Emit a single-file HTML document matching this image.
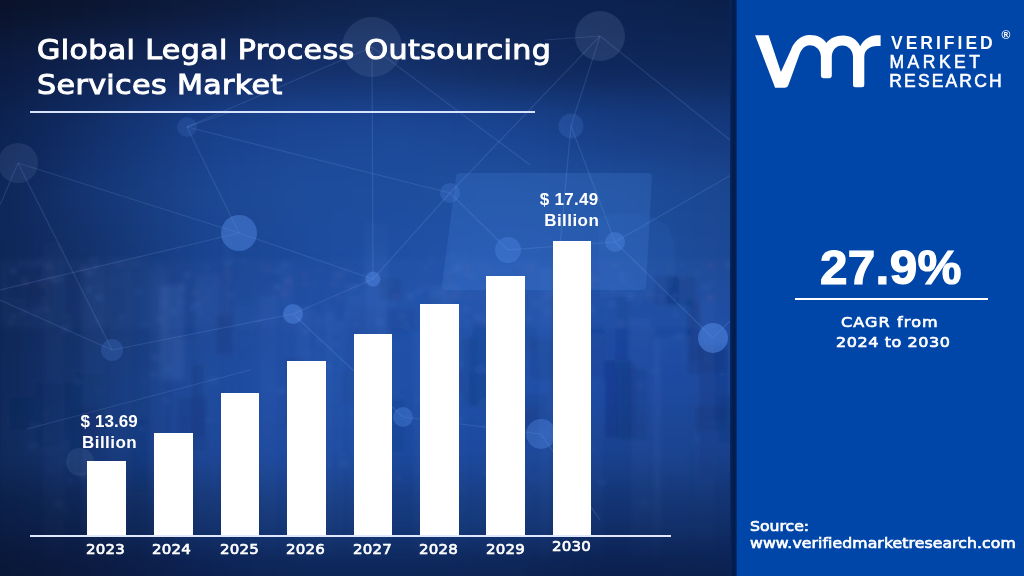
<!DOCTYPE html>
<html><head><meta charset="utf-8">
<style>
*{margin:0;padding:0;box-sizing:border-box}
html,body{width:1024px;height:576px;overflow:hidden;background:#0045a8}
#left{position:absolute;left:0;top:0;width:731px;height:576px;overflow:hidden;background:#1a4490}
#sep{position:absolute;left:730px;top:0;width:7.5px;height:576px;background:linear-gradient(90deg,#0a2a62 0px,#041e50 2px,#031c4c 4.5px,#04225a 6px,#0a3c96 7.5px)}
#right{position:absolute;left:737px;top:0;width:287px;height:576px;background:#0045a8}
.t{position:absolute;color:#fff;white-space:nowrap}
#title{left:37px;top:32.2px;font:27.4px/35.2px "DejaVu Sans",sans-serif;-webkit-text-stroke:1px #fff;letter-spacing:0.33px;transform:scaleX(1.1);transform-origin:0 0}
#tline{position:absolute;left:29.5px;top:111px;width:505.5px;height:2px;background:#d8e4ff}
.bar{position:absolute;background:#fff;width:38.5px}
#axis{position:absolute;left:30px;top:535px;width:641px;height:2px;background:#dfe8ff}
.yr{position:absolute;font:14.3px/17px "DejaVu Sans",sans-serif;-webkit-text-stroke:0.65px #fff;letter-spacing:0.2px;transform:scaleX(1.05);transform-origin:0 0;color:#fff}
.val{position:absolute;font:bold 17px/20px "Liberation Sans",sans-serif;color:#fff;white-space:nowrap}
#cagr{left:819.9px;top:240.2px;font:bold 48px/56px "Liberation Sans",sans-serif;-webkit-text-stroke:1.2px #fff;letter-spacing:0.3px;transform:scaleX(1.03);transform-origin:0 0}
#cline{position:absolute;left:795.3px;top:297.8px;width:192.4px;height:2px;background:#fff}
.cs{font:14.3px/17px "DejaVu Sans",sans-serif;-webkit-text-stroke:0.65px #fff;transform:scaleX(1.12);transform-origin:0 0}
.sr{left:750px;font:14px/17px "DejaVu Sans",sans-serif;-webkit-text-stroke:0.65px #fff;transform:scaleX(1.12);transform-origin:0 0}
.lg{position:absolute;left:891px;color:#fff;font:17.5px "Liberation Sans",sans-serif;white-space:nowrap}
</style></head><body>
<div id="left">
<div id="bg" style="position:absolute;left:-60px;top:-60px;width:860px;height:700px;filter:blur(20px)"><div style="position:absolute;left:0;top:0px;width:860px;height:92px;background:linear-gradient(90deg,#0a1228 60px,#0b1530 160px,#0c1a3c 260px,#0d2046 360px,#0e234e 460px,#0d2250 560px,#0c2250 660px,#0b1f4a 790px)"></div><div style="position:absolute;left:0;top:92px;width:860px;height:64px;background:linear-gradient(90deg,#0b1a40 60px,#0f2452 160px,#12295e 260px,#142f68 360px,#14306a 460px,#112a5e 560px,#0f275a 660px,#0d2758 790px)"></div><div style="position:absolute;left:0;top:156px;width:860px;height:64px;background:linear-gradient(90deg,#0c2250 60px,#12306c 160px,#18408a 260px,#1b4694 360px,#1c4898 460px,#1a4592 560px,#173e86 660px,#15397e 790px)"></div><div style="position:absolute;left:0;top:220px;width:860px;height:64px;background:linear-gradient(90deg,#0e2658 60px,#153676 160px,#1b4690 260px,#1e4c9c 360px,#1e4d9e 460px,#204f9f 560px,#1f4e9c 660px,#1a4690 790px)"></div><div style="position:absolute;left:0;top:284px;width:860px;height:64px;background:linear-gradient(90deg,#0e2656 60px,#14336e 160px,#1a4490 260px,#1d4a9c 360px,#1f4fa4 460px,#2254aa 560px,#2050a4 660px,#1c4894 790px)"></div><div style="position:absolute;left:0;top:348px;width:860px;height:64px;background:linear-gradient(90deg,#0d2554 60px,#14336e 160px,#1a4592 260px,#1d4aa0 360px,#1f50a8 460px,#1f50a8 560px,#1d4ca2 660px,#1c4aa0 790px)"></div><div style="position:absolute;left:0;top:412px;width:860px;height:64px;background:linear-gradient(90deg,#0d2556 60px,#143574 160px,#1a4698 260px,#1d4ca4 360px,#1e4ea6 460px,#1e4ea6 560px,#1b47a0 660px,#1a459a 790px)"></div><div style="position:absolute;left:0;top:476px;width:860px;height:64px;background:linear-gradient(90deg,#0e2858 60px,#143678 160px,#194294 260px,#1b489e 360px,#1b489e 460px,#1b489e 560px,#18428f 660px,#17408c 790px)"></div><div style="position:absolute;left:0;top:540px;width:860px;height:64px;background:linear-gradient(90deg,#0b1e46 60px,#0e2452 160px,#12326e 260px,#15397c 360px,#15397c 460px,#153a7e 560px,#12316e 660px,#11306c 790px)"></div><div style="position:absolute;left:0;top:604px;width:860px;height:96px;background:linear-gradient(90deg,#0a1636 60px,#0b1a40 160px,#0c2050 260px,#0d2556 360px,#0d2556 460px,#0d2454 560px,#0b1f4c 660px,#0b204e 790px)"></div></div>
<svg id="city" width="731" height="576" style="position:absolute;left:0;top:0"><defs><filter id="cb"><feGaussianBlur stdDeviation="2.6"/></filter><linearGradient id="cm" x1="0" y1="0" x2="0" y2="1"><stop offset="0.35" stop-color="#fff" stop-opacity="0"/><stop offset="0.5" stop-color="#fff" stop-opacity="1"/><stop offset="0.85" stop-color="#fff" stop-opacity="0.8"/><stop offset="1" stop-color="#fff" stop-opacity="0"/></linearGradient><mask id="mk"><rect width="731" height="576" fill="url(#cm)"/></mask></defs><g filter="url(#cb)" mask="url(#mk)" fill="#8ab4ff"><rect x="529" y="338" width="26" height="43" fill="#081a44" fill-opacity="0.09"/><rect x="667" y="275" width="30" height="31" fill="#081a44" fill-opacity="0.14"/><rect x="191" y="364" width="14" height="73" fill="#081a44" fill-opacity="0.13"/><rect x="689" y="304" width="12" height="58" fill="#081a44" fill-opacity="0.11"/><rect x="501" y="407" width="39" height="38" fill="#081a44" fill-opacity="0.13"/><rect x="654" y="275" width="25" height="30" fill="#081a44" fill-opacity="0.13"/><rect x="615" y="294" width="15" height="75" fill="#081a44" fill-opacity="0.07"/><rect x="284" y="357" width="21" height="71" fill="#081a44" fill-opacity="0.13"/><rect x="718" y="395" width="26" height="48" fill="#081a44" fill-opacity="0.10"/><rect x="5" y="266" width="39" height="34" fill="#081a44" fill-opacity="0.13"/><rect x="577" y="324" width="28" height="54" fill="#081a44" fill-opacity="0.07"/><rect x="24" y="280" width="29" height="30" fill="#081a44" fill-opacity="0.14"/><rect x="512" y="267" width="14" height="59" fill="#081a44" fill-opacity="0.05"/><rect x="50" y="269" width="36" height="66" fill="#081a44" fill-opacity="0.07"/><rect x="698" y="346" width="30" height="73" fill="#081a44" fill-opacity="0.12"/><rect x="520" y="323" width="17" height="32" fill="#081a44" fill-opacity="0.05"/><rect x="694" y="406" width="33" height="25" fill="#081a44" fill-opacity="0.12"/><rect x="462" y="337" width="14" height="68" fill="#081a44" fill-opacity="0.11"/><rect x="215" y="315" width="18" height="41" fill="#081a44" fill-opacity="0.13"/><rect x="35" y="382" width="37" height="66" fill="#081a44" fill-opacity="0.10"/><rect x="348" y="307" width="32" height="67" fill="#081a44" fill-opacity="0.05"/><rect x="379" y="278" width="24" height="23" fill="#081a44" fill-opacity="0.10"/><rect x="522" y="393" width="27" height="37" fill="#081a44" fill-opacity="0.09"/><rect x="383" y="308" width="33" height="23" fill="#081a44" fill-opacity="0.08"/><rect x="70" y="372" width="35" height="78" fill="#081a44" fill-opacity="0.10"/><rect x="700" y="343" width="27" height="30" fill="#081a44" fill-opacity="0.12"/><rect x="686" y="299" width="15" height="76" fill="#081a44" fill-opacity="0.12"/><rect x="358" y="419" width="27" height="26" fill="#081a44" fill-opacity="0.08"/><rect x="70" y="409" width="37" height="65" fill="#081a44" fill-opacity="0.09"/><rect x="472" y="321" width="19" height="46" fill="#081a44" fill-opacity="0.10"/><rect x="125" y="417" width="29" height="77" fill="#081a44" fill-opacity="0.06"/><rect x="434" y="371" width="28" height="22" fill="#081a44" fill-opacity="0.10"/><rect x="381" y="399" width="24" height="53" fill="#081a44" fill-opacity="0.08"/><rect x="339" y="371" width="18" height="34" fill="#081a44" fill-opacity="0.08"/><rect x="470" y="372" width="25" height="36" fill="#081a44" fill-opacity="0.12"/><rect x="604" y="360" width="32" height="78" fill="#081a44" fill-opacity="0.12"/><rect x="441" y="317" width="17" height="77" fill="#081a44" fill-opacity="0.07"/><rect x="698" y="419" width="15" height="59" fill="#081a44" fill-opacity="0.07"/><rect x="110" y="285" width="19" height="38" fill="#081a44" fill-opacity="0.07"/><rect x="80" y="406" width="18" height="73" fill="#081a44" fill-opacity="0.09"/><rect x="9" y="397" width="23" height="33" fill="#081a44" fill-opacity="0.14"/><rect x="217" y="265" width="18" height="64" fill="#081a44" fill-opacity="0.05"/><rect x="177" y="397" width="31" height="55" fill="#081a44" fill-opacity="0.11"/><rect x="618" y="368" width="30" height="73" fill="#081a44" fill-opacity="0.11"/><rect x="427" y="298" width="15" height="27" fill="#081a44" fill-opacity="0.09"/><rect x="160" y="285" width="24" height="95" fill-opacity="0.10"/><rect x="0" y="258" width="731" height="70" fill-opacity="0.035"/><rect x="190" y="308" width="6" height="2" fill-opacity="0.14"/><rect x="521" y="269" width="5" height="3" fill-opacity="0.08"/><rect x="628" y="295" width="5" height="4" fill-opacity="0.21"/><rect x="240" y="259" width="5" height="4" fill-opacity="0.09"/><rect x="184" y="274" width="5" height="4" fill-opacity="0.11"/><rect x="255" y="319" width="4" height="2" fill-opacity="0.15"/><rect x="12" y="315" width="3" height="3" fill-opacity="0.18"/><rect x="334" y="329" width="3" height="3" fill-opacity="0.21"/><rect x="533" y="302" width="5" height="3" fill-opacity="0.13"/><rect x="45" y="263" width="6" height="3" fill-opacity="0.17"/><rect x="424" y="266" width="3" height="3" fill-opacity="0.21"/><rect x="710" y="330" width="6" height="3" fill-opacity="0.10"/><rect x="679" y="263" width="5" height="2" fill-opacity="0.17"/><rect x="527" y="317" width="3" height="3" fill-opacity="0.20"/><rect x="581" y="288" width="6" height="4" fill-opacity="0.17"/><rect x="570" y="292" width="5" height="2" fill-opacity="0.18"/><rect x="503" y="329" width="5" height="3" fill-opacity="0.19"/><rect x="584" y="284" width="5" height="3" fill-opacity="0.15"/><rect x="456" y="264" width="6" height="2" fill-opacity="0.12"/><rect x="282" y="264" width="4" height="3" fill-opacity="0.21"/><rect x="388" y="283" width="4" height="3" fill-opacity="0.11"/><rect x="53" y="279" width="4" height="3" fill-opacity="0.20"/><rect x="136" y="291" width="5" height="2" fill-opacity="0.14"/><rect x="391" y="302" width="5" height="4" fill-opacity="0.09"/><rect x="659" y="297" width="5" height="3" fill-opacity="0.15"/><rect x="156" y="264" width="5" height="3" fill-opacity="0.10"/><rect x="87" y="288" width="5" height="3" fill-opacity="0.16"/><rect x="354" y="323" width="5" height="2" fill-opacity="0.10"/><rect x="438" y="311" width="3" height="3" fill-opacity="0.18"/><rect x="364" y="279" width="4" height="3" fill-opacity="0.22"/><rect x="494" y="271" width="3" height="3" fill-opacity="0.08"/><rect x="34" y="311" width="6" height="4" fill-opacity="0.09"/><rect x="354" y="313" width="3" height="2" fill-opacity="0.14"/><rect x="93" y="265" width="5" height="3" fill-opacity="0.19"/><rect x="405" y="324" width="3" height="3" fill-opacity="0.12"/><rect x="39" y="279" width="3" height="3" fill-opacity="0.13"/><rect x="720" y="321" width="3" height="2" fill-opacity="0.15"/><rect x="86" y="272" width="5" height="2" fill-opacity="0.22"/><rect x="64" y="330" width="4" height="3" fill-opacity="0.14"/><rect x="420" y="287" width="2" height="2" fill-opacity="0.20"/><rect x="347" y="313" width="2" height="3" fill-opacity="0.16"/><rect x="275" y="269" width="5" height="3" fill-opacity="0.20"/><rect x="61" y="261" width="5" height="3" fill-opacity="0.10"/><rect x="485" y="321" width="4" height="2" fill-opacity="0.21"/><rect x="10" y="321" width="3" height="3" fill-opacity="0.18"/><rect x="630" y="271" width="2" height="2" fill-opacity="0.16"/><rect x="423" y="324" width="4" height="3" fill-opacity="0.20"/><rect x="566" y="288" width="5" height="3" fill-opacity="0.09"/><rect x="497" y="301" width="6" height="3" fill-opacity="0.10"/><rect x="563" y="298" width="2" height="3" fill-opacity="0.21"/><rect x="458" y="289" width="2" height="3" fill-opacity="0.22"/><rect x="628" y="274" width="2" height="3" fill-opacity="0.12"/><rect x="416" y="290" width="5" height="4" fill-opacity="0.13"/><rect x="546" y="308" width="3" height="4" fill-opacity="0.12"/><rect x="408" y="294" width="5" height="4" fill-opacity="0.21"/><rect x="38" y="260" width="2" height="4" fill-opacity="0.18"/><rect x="452" y="286" width="3" height="3" fill-opacity="0.21"/><rect x="610" y="302" width="3" height="4" fill-opacity="0.18"/><rect x="343" y="270" width="6" height="2" fill-opacity="0.21"/><rect x="120" y="316" width="4" height="4" fill-opacity="0.14"/><rect x="199" y="312" width="3" height="3" fill-opacity="0.17"/><rect x="476" y="316" width="4" height="4" fill-opacity="0.18"/><rect x="11" y="269" width="5" height="3" fill-opacity="0.22"/><rect x="180" y="286" width="4" height="4" fill-opacity="0.11"/><rect x="330" y="308" width="3" height="3" fill-opacity="0.10"/><rect x="673" y="313" width="5" height="3" fill-opacity="0.10"/><rect x="651" y="329" width="3" height="4" fill-opacity="0.19"/><rect x="400" y="314" width="4" height="3" fill-opacity="0.16"/><rect x="354" y="285" width="5" height="3" fill-opacity="0.22"/><rect x="226" y="262" width="4" height="3" fill-opacity="0.21"/><rect x="429" y="259" width="4" height="3" fill-opacity="0.16"/><rect x="260" y="263" width="4" height="3" fill-opacity="0.12"/><rect x="609" y="281" width="4" height="2" fill-opacity="0.11"/><rect x="67" y="316" width="3" height="3" fill-opacity="0.13"/><rect x="570" y="320" width="3" height="4" fill-opacity="0.15"/><rect x="633" y="285" width="4" height="2" fill-opacity="0.12"/><rect x="22" y="278" width="4" height="2" fill-opacity="0.11"/><rect x="637" y="299" width="4" height="2" fill-opacity="0.21"/><rect x="205" y="265" width="4" height="3" fill-opacity="0.17"/><rect x="96" y="319" width="3" height="4" fill-opacity="0.13"/><rect x="20" y="261" width="3" height="3" fill-opacity="0.15"/><rect x="618" y="322" width="5" height="3" fill-opacity="0.21"/><rect x="516" y="264" width="3" height="2" fill-opacity="0.09"/><rect x="673" y="294" width="3" height="4" fill-opacity="0.13"/><rect x="172" y="310" width="3" height="4" fill-opacity="0.21"/><rect x="43" y="298" width="2" height="4" fill-opacity="0.12"/><rect x="375" y="311" width="5" height="3" fill-opacity="0.09"/><rect x="232" y="258" width="3" height="3" fill-opacity="0.16"/><rect x="323" y="305" width="4" height="3" fill-opacity="0.13"/><rect x="274" y="285" width="4" height="4" fill-opacity="0.21"/><rect x="0" y="269" width="16" height="291" fill-opacity="0.014"/><rect x="18" y="262" width="23" height="298" fill-opacity="0.015"/><rect x="43" y="242" width="22" height="318" fill-opacity="0.043"/><rect x="67" y="261" width="13" height="299" fill-opacity="0.015"/><rect x="82" y="265" width="24" height="295" fill-opacity="0.060"/><rect x="108" y="257" width="24" height="303" fill-opacity="0.042"/><rect x="134" y="255" width="13" height="305" fill-opacity="0.021"/><rect x="149" y="268" width="19" height="292" fill-opacity="0.056"/><rect x="170" y="337" width="23" height="223" fill-opacity="0.057"/><rect x="195" y="274" width="26" height="286" fill-opacity="0.054"/><rect x="223" y="228" width="8" height="332" fill-opacity="0.050"/><rect x="233" y="304" width="23" height="256" fill-opacity="0.047"/><rect x="258" y="296" width="20" height="264" fill-opacity="0.074"/><rect x="280" y="260" width="13" height="300" fill-opacity="0.052"/><rect x="295" y="307" width="16" height="253" fill-opacity="0.088"/><rect x="313" y="315" width="9" height="245" fill-opacity="0.071"/><rect x="324" y="312" width="10" height="248" fill-opacity="0.087"/><rect x="336" y="321" width="8" height="239" fill-opacity="0.080"/><rect x="346" y="293" width="16" height="267" fill-opacity="0.058"/><rect x="364" y="220" width="24" height="340" fill-opacity="0.086"/><rect x="390" y="339" width="21" height="221" fill-opacity="0.015"/><rect x="413" y="332" width="15" height="228" fill-opacity="0.064"/><rect x="430" y="286" width="20" height="274" fill-opacity="0.081"/><rect x="452" y="252" width="17" height="308" fill-opacity="0.038"/><rect x="471" y="264" width="25" height="296" fill-opacity="0.027"/><rect x="498" y="266" width="15" height="294" fill-opacity="0.042"/><rect x="515" y="260" width="21" height="300" fill-opacity="0.042"/><rect x="538" y="267" width="14" height="293" fill-opacity="0.079"/><rect x="554" y="340" width="14" height="220" fill-opacity="0.039"/><rect x="570" y="279" width="18" height="281" fill-opacity="0.024"/><rect x="590" y="334" width="13" height="226" fill-opacity="0.049"/><rect x="605" y="273" width="24" height="287" fill-opacity="0.010"/><rect x="631" y="318" width="19" height="242" fill-opacity="0.055"/><rect x="652" y="338" width="10" height="222" fill-opacity="0.086"/><rect x="664" y="336" width="26" height="224" fill-opacity="0.047"/><rect x="692" y="300" width="23" height="260" fill-opacity="0.042"/><rect x="717" y="331" width="21" height="229" fill-opacity="0.025"/><rect x="720" y="372" width="4" height="4" fill-opacity="0.06"/><rect x="414" y="397" width="9" height="4" fill-opacity="0.06"/><rect x="152" y="355" width="7" height="5" fill-opacity="0.10"/><rect x="347" y="286" width="6" height="5" fill-opacity="0.09"/><rect x="228" y="293" width="7" height="4" fill-opacity="0.09"/><rect x="506" y="392" width="4" height="5" fill-opacity="0.08"/><rect x="504" y="497" width="8" height="3" fill-opacity="0.11"/><rect x="67" y="479" width="6" height="5" fill-opacity="0.08"/><rect x="163" y="399" width="6" height="4" fill-opacity="0.11"/><rect x="576" y="456" width="4" height="3" fill-opacity="0.09"/><rect x="587" y="308" width="6" height="4" fill-opacity="0.14"/><rect x="578" y="380" width="4" height="4" fill-opacity="0.08"/><rect x="591" y="447" width="5" height="5" fill-opacity="0.06"/><rect x="75" y="380" width="5" height="3" fill-opacity="0.14"/><rect x="446" y="256" width="8" height="3" fill-opacity="0.11"/><rect x="610" y="287" width="5" height="4" fill-opacity="0.07"/><rect x="650" y="370" width="7" height="2" fill-opacity="0.14"/><rect x="528" y="378" width="7" height="2" fill-opacity="0.06"/><rect x="726" y="262" width="7" height="3" fill-opacity="0.11"/><rect x="447" y="413" width="6" height="5" fill-opacity="0.06"/><rect x="401" y="261" width="8" height="4" fill-opacity="0.06"/><rect x="548" y="292" width="9" height="3" fill-opacity="0.13"/><rect x="20" y="311" width="6" height="4" fill-opacity="0.08"/><rect x="398" y="476" width="3" height="4" fill-opacity="0.13"/><rect x="484" y="471" width="6" height="4" fill-opacity="0.13"/><rect x="96" y="295" width="6" height="5" fill-opacity="0.12"/><rect x="445" y="461" width="4" height="2" fill-opacity="0.11"/><rect x="88" y="271" width="7" height="4" fill-opacity="0.09"/><rect x="568" y="489" width="3" height="3" fill-opacity="0.05"/><rect x="71" y="375" width="3" height="5" fill-opacity="0.06"/><rect x="238" y="513" width="7" height="3" fill-opacity="0.07"/><rect x="371" y="469" width="6" height="3" fill-opacity="0.10"/><rect x="640" y="501" width="9" height="5" fill-opacity="0.07"/><rect x="327" y="365" width="5" height="3" fill-opacity="0.11"/><rect x="313" y="311" width="5" height="2" fill-opacity="0.12"/><rect x="687" y="426" width="5" height="3" fill-opacity="0.06"/><rect x="342" y="453" width="4" height="5" fill-opacity="0.06"/><rect x="488" y="314" width="7" height="5" fill-opacity="0.09"/><rect x="308" y="350" width="4" height="3" fill-opacity="0.08"/><rect x="335" y="441" width="5" height="4" fill-opacity="0.08"/><rect x="702" y="285" width="9" height="3" fill-opacity="0.13"/><rect x="61" y="327" width="8" height="3" fill-opacity="0.12"/><rect x="599" y="480" width="7" height="5" fill-opacity="0.09"/><rect x="392" y="391" width="6" height="3" fill-opacity="0.08"/><rect x="584" y="304" width="8" height="3" fill-opacity="0.05"/><rect x="65" y="324" width="7" height="3" fill-opacity="0.07"/><rect x="89" y="258" width="9" height="3" fill-opacity="0.13"/><rect x="454" y="266" width="7" height="5" fill-opacity="0.14"/><rect x="191" y="303" width="9" height="4" fill-opacity="0.10"/><rect x="150" y="373" width="7" height="3" fill-opacity="0.12"/><rect x="727" y="265" width="3" height="4" fill-opacity="0.14"/><rect x="376" y="320" width="6" height="4" fill-opacity="0.11"/><rect x="480" y="400" width="8" height="5" fill-opacity="0.08"/><rect x="157" y="316" width="4" height="5" fill-opacity="0.12"/><rect x="102" y="517" width="9" height="5" fill-opacity="0.05"/><rect x="457" y="488" width="6" height="2" fill-opacity="0.11"/><rect x="278" y="389" width="9" height="4" fill-opacity="0.11"/><rect x="33" y="304" width="5" height="2" fill-opacity="0.08"/><rect x="240" y="516" width="5" height="2" fill-opacity="0.13"/><rect x="159" y="303" width="5" height="2" fill-opacity="0.08"/><rect x="480" y="321" width="8" height="2" fill-opacity="0.12"/><rect x="105" y="411" width="5" height="3" fill-opacity="0.11"/><rect x="62" y="509" width="8" height="2" fill-opacity="0.13"/><rect x="573" y="413" width="8" height="4" fill-opacity="0.09"/><rect x="208" y="419" width="4" height="4" fill-opacity="0.11"/><rect x="375" y="369" width="7" height="4" fill-opacity="0.13"/><rect x="550" y="406" width="8" height="2" fill-opacity="0.11"/><rect x="583" y="443" width="9" height="4" fill-opacity="0.06"/><rect x="31" y="424" width="9" height="3" fill-opacity="0.09"/><rect x="37" y="260" width="6" height="3" fill-opacity="0.07"/><rect x="334" y="274" width="9" height="5" fill-opacity="0.06"/><rect x="384" y="453" width="6" height="4" fill-opacity="0.13"/><rect x="172" y="455" width="4" height="4" fill-opacity="0.09"/><rect x="618" y="275" width="8" height="3" fill-opacity="0.05"/><rect x="463" y="308" width="7" height="3" fill-opacity="0.11"/><rect x="507" y="420" width="4" height="3" fill-opacity="0.09"/><rect x="711" y="281" width="4" height="3" fill-opacity="0.11"/><rect x="209" y="378" width="8" height="5" fill-opacity="0.10"/><rect x="228" y="278" width="6" height="3" fill-opacity="0.06"/><rect x="370" y="519" width="9" height="3" fill-opacity="0.13"/><rect x="680" y="275" width="4" height="4" fill-opacity="0.07"/><rect x="263" y="415" width="7" height="3" fill-opacity="0.06"/><rect x="267" y="387" width="8" height="3" fill-opacity="0.06"/><rect x="694" y="436" width="5" height="4" fill-opacity="0.09"/><rect x="275" y="287" width="5" height="3" fill-opacity="0.08"/><rect x="291" y="504" width="4" height="2" fill-opacity="0.12"/><rect x="185" y="272" width="5" height="5" fill-opacity="0.06"/><rect x="676" y="455" width="8" height="3" fill-opacity="0.05"/><rect x="484" y="423" width="4" height="5" fill-opacity="0.09"/><rect x="231" y="460" width="8" height="3" fill-opacity="0.05"/><rect x="557" y="361" width="8" height="4" fill-opacity="0.07"/><rect x="59" y="502" width="5" height="4" fill-opacity="0.06"/><rect x="636" y="384" width="8" height="4" fill-opacity="0.07"/><rect x="303" y="330" width="5" height="4" fill-opacity="0.11"/><rect x="297" y="318" width="6" height="4" fill-opacity="0.06"/><rect x="470" y="275" width="6" height="4" fill-opacity="0.10"/><rect x="331" y="343" width="8" height="3" fill-opacity="0.10"/><rect x="178" y="301" width="6" height="3" fill-opacity="0.08"/><rect x="592" y="309" width="3" height="5" fill-opacity="0.08"/><rect x="545" y="311" width="5" height="4" fill-opacity="0.09"/><rect x="420" y="350" width="7" height="4" fill-opacity="0.12"/><rect x="620" y="280" width="8" height="3" fill-opacity="0.11"/><rect x="316" y="338" width="8" height="5" fill-opacity="0.06"/><rect x="311" y="457" width="8" height="5" fill-opacity="0.09"/><rect x="53" y="502" width="9" height="4" fill-opacity="0.09"/><rect x="328" y="463" width="4" height="2" fill-opacity="0.14"/><rect x="80" y="474" width="7" height="5" fill-opacity="0.13"/><rect x="62" y="461" width="3" height="2" fill-opacity="0.10"/><rect x="27" y="444" width="9" height="4" fill-opacity="0.10"/><rect x="320" y="457" width="4" height="3" fill-opacity="0.13"/><rect x="140" y="324" width="8" height="2" fill-opacity="0.10"/><rect x="728" y="329" width="5" height="5" fill-opacity="0.07"/><rect x="385" y="400" width="3" height="3" fill-opacity="0.11"/><rect x="40" y="306" width="8" height="4" fill-opacity="0.06"/><rect x="167" y="367" width="5" height="3" fill-opacity="0.11"/><rect x="525" y="351" width="5" height="2" fill-opacity="0.08"/><rect x="618" y="273" width="6" height="3" fill-opacity="0.12"/><rect x="142" y="378" width="5" height="5" fill-opacity="0.06"/><rect x="456" y="417" width="8" height="3" fill-opacity="0.13"/><rect x="41" y="413" width="9" height="2" fill-opacity="0.05"/><rect x="436" y="365" width="7" height="3" fill-opacity="0.09"/><rect x="520" y="338" width="4" height="2" fill-opacity="0.06"/><rect x="139" y="428" width="6" height="3" fill-opacity="0.08"/><rect x="530" y="477" width="9" height="3" fill-opacity="0.06"/><rect x="57" y="276" width="6" height="5" fill-opacity="0.10"/><rect x="555" y="356" width="8" height="3" fill-opacity="0.12"/><rect x="64" y="442" width="4" height="4" fill-opacity="0.09"/><rect x="236" y="450" width="6" height="4" fill-opacity="0.07"/><rect x="457" y="362" width="5" height="3" fill-opacity="0.12"/><rect x="45" y="307" width="3" height="4" fill-opacity="0.08"/><rect x="245" y="508" width="3" height="4" fill-opacity="0.11"/><rect x="676" y="334" width="7" height="4" fill-opacity="0.12"/><rect x="692" y="272" width="8" height="2" fill-opacity="0.11"/><rect x="340" y="461" width="8" height="5" fill-opacity="0.12"/><rect x="97" y="387" width="3" height="5" fill-opacity="0.08"/><rect x="506" y="295" width="4" height="5" fill-opacity="0.09"/><rect x="573" y="413" width="6" height="3" fill-opacity="0.06"/><rect x="298" y="427" width="6" height="4" fill-opacity="0.06"/><rect x="312" y="283" width="3" height="4" fill-opacity="0.07"/><rect x="308" y="517" width="9" height="3" fill-opacity="0.06"/><rect x="337" y="296" width="4" height="3" fill="#c27aa8" fill-opacity="0.17"/><rect x="555" y="292" width="4" height="3" fill="#c27aa8" fill-opacity="0.11"/><rect x="186" y="272" width="5" height="2" fill="#c27aa8" fill-opacity="0.11"/><rect x="206" y="296" width="4" height="2" fill="#c27aa8" fill-opacity="0.11"/><rect x="180" y="282" width="6" height="2" fill="#c27aa8" fill-opacity="0.14"/><rect x="27" y="262" width="7" height="2" fill="#c27aa8" fill-opacity="0.13"/><rect x="273" y="295" width="4" height="2" fill="#c27aa8" fill-opacity="0.15"/><rect x="605" y="269" width="3" height="3" fill="#c27aa8" fill-opacity="0.10"/><rect x="441" y="291" width="6" height="2" fill="#c27aa8" fill-opacity="0.16"/><rect x="519" y="275" width="3" height="3" fill="#c27aa8" fill-opacity="0.09"/><rect x="731" y="263" width="7" height="4" fill="#c27aa8" fill-opacity="0.18"/><rect x="599" y="278" width="5" height="3" fill="#c27aa8" fill-opacity="0.09"/><rect x="23" y="281" width="5" height="3" fill="#c27aa8" fill-opacity="0.18"/><rect x="485" y="268" width="6" height="3" fill="#c27aa8" fill-opacity="0.13"/><rect x="198" y="300" width="6" height="3" fill="#c27aa8" fill-opacity="0.09"/><rect x="545" y="296" width="5" height="2" fill="#c27aa8" fill-opacity="0.17"/><rect x="586" y="286" width="5" height="3" fill="#c27aa8" fill-opacity="0.19"/><rect x="317" y="268" width="4" height="2" fill="#c27aa8" fill-opacity="0.15"/><rect x="267" y="291" width="4" height="2" fill="#c27aa8" fill-opacity="0.10"/><rect x="590" y="277" width="6" height="4" fill="#c27aa8" fill-opacity="0.17"/><rect x="126" y="275" width="4" height="2" fill="#c27aa8" fill-opacity="0.09"/><rect x="281" y="291" width="7" height="4" fill="#c27aa8" fill-opacity="0.12"/><rect x="612" y="264" width="8" height="3" fill="#c27aa8" fill-opacity="0.15"/><rect x="465" y="265" width="7" height="3" fill="#c27aa8" fill-opacity="0.19"/><rect x="468" y="295" width="6" height="3" fill="#c27aa8" fill-opacity="0.10"/><rect x="346" y="283" width="3" height="4" fill="#c27aa8" fill-opacity="0.10"/><rect x="263" y="268" width="8" height="4" fill="#c27aa8" fill-opacity="0.10"/><rect x="646" y="294" width="6" height="3" fill="#c27aa8" fill-opacity="0.12"/><rect x="285" y="279" width="7" height="4" fill="#c27aa8" fill-opacity="0.16"/><rect x="225" y="271" width="5" height="3" fill="#c27aa8" fill-opacity="0.14"/><rect x="131" y="262" width="8" height="3" fill="#c27aa8" fill-opacity="0.13"/><rect x="452" y="293" width="7" height="4" fill="#c27aa8" fill-opacity="0.13"/><rect x="49" y="276" width="5" height="4" fill="#c27aa8" fill-opacity="0.14"/><rect x="480" y="264" width="4" height="4" fill="#c27aa8" fill-opacity="0.12"/><rect x="527" y="265" width="7" height="4" fill="#c27aa8" fill-opacity="0.16"/><rect x="573" y="263" width="3" height="3" fill="#c27aa8" fill-opacity="0.16"/><rect x="80" y="267" width="7" height="3" fill="#c27aa8" fill-opacity="0.18"/><rect x="581" y="288" width="7" height="2" fill="#c27aa8" fill-opacity="0.18"/><rect x="446" y="272" width="5" height="3" fill="#c27aa8" fill-opacity="0.19"/><rect x="334" y="272" width="8" height="3" fill="#c27aa8" fill-opacity="0.15"/><rect x="450" y="271" width="5" height="2" fill="#c27aa8" fill-opacity="0.13"/><rect x="465" y="273" width="5" height="3" fill="#c27aa8" fill-opacity="0.18"/><rect x="193" y="291" width="3" height="4" fill="#c27aa8" fill-opacity="0.20"/><rect x="331" y="282" width="6" height="4" fill="#c27aa8" fill-opacity="0.11"/><rect x="392" y="295" width="7" height="3" fill="#c27aa8" fill-opacity="0.13"/><rect x="270" y="268" width="5" height="2" fill="#c27aa8" fill-opacity="0.11"/><rect x="450" y="298" width="4" height="3" fill="#c27aa8" fill-opacity="0.12"/><rect x="706" y="295" width="8" height="4" fill="#c27aa8" fill-opacity="0.17"/><rect x="546" y="270" width="4" height="3" fill="#c27aa8" fill-opacity="0.13"/><rect x="266" y="264" width="5" height="3" fill="#c27aa8" fill-opacity="0.09"/><rect x="40" y="284" width="5" height="3" fill="#c27aa8" fill-opacity="0.14"/><rect x="302" y="273" width="4" height="3" fill="#c27aa8" fill-opacity="0.18"/><rect x="116" y="263" width="7" height="3" fill="#c27aa8" fill-opacity="0.13"/><rect x="47" y="267" width="6" height="3" fill="#c27aa8" fill-opacity="0.18"/><rect x="707" y="264" width="7" height="4" fill="#c27aa8" fill-opacity="0.15"/><rect x="423" y="285" width="6" height="3" fill="#c27aa8" fill-opacity="0.10"/><rect x="0" y="264" width="3" height="2" fill="#c27aa8" fill-opacity="0.10"/><rect x="666" y="266" width="6" height="3" fill="#c27aa8" fill-opacity="0.10"/><rect x="302" y="282" width="6" height="3" fill="#c27aa8" fill-opacity="0.13"/><rect x="448" y="281" width="3" height="3" fill="#c27aa8" fill-opacity="0.20"/></g></svg>
<svg id="net" width="731" height="576" style="position:absolute;left:0;top:0"><path d="M460,173 L648,173 Q652,173 652,177 L646,286 Q646,290 642,290 L446,290 Q442,290 442,286 L456,177 Q456,173 460,173Z" fill="#4a8ae8" fill-opacity="0.2"/><path d="M598,218 Q640,205 668,226 Q684,262 668,296 L600,298 Z" fill="#4a8ae8" fill-opacity="0.07"/><g stroke="#9cc0ff" stroke-opacity="0.14" stroke-width="1.25" fill="none"><line x1="187" y1="127" x2="372" y2="47"/><line x1="187" y1="127" x2="239" y2="233"/><line x1="187" y1="127" x2="450" y2="193"/><line x1="18" y1="163" x2="239" y2="233"/><line x1="18" y1="163" x2="112" y2="350"/><line x1="372" y1="47" x2="373" y2="279"/><line x1="239" y1="233" x2="373" y2="279"/><line x1="373" y1="279" x2="293" y2="314"/><line x1="373" y1="279" x2="450" y2="193"/><line x1="293" y1="314" x2="112" y2="350"/><line x1="600" y1="36" x2="571" y2="126"/><line x1="600" y1="36" x2="450" y2="193"/><line x1="571" y1="126" x2="615" y2="242"/><line x1="450" y1="193" x2="508" y2="250"/><line x1="508" y1="250" x2="615" y2="242"/><line x1="615" y1="242" x2="713" y2="338"/><line x1="403" y1="417" x2="293" y2="314"/><line x1="403" y1="417" x2="541" y2="434"/><line x1="18" y1="163" x2="0" y2="205"/><line x1="239" y1="233" x2="0" y2="290"/><line x1="600" y1="36" x2="730" y2="140"/><line x1="600" y1="36" x2="545" y2="40"/><line x1="571" y1="126" x2="555" y2="300"/><line x1="615" y1="242" x2="731" y2="175"/><line x1="372" y1="47" x2="530" y2="165"/><line x1="187" y1="127" x2="230" y2="112"/><line x1="112" y1="350" x2="0" y2="300"/><line x1="27" y1="429" x2="250" y2="370"/><line x1="713" y1="338" x2="731" y2="320"/><line x1="541" y1="434" x2="600" y2="520"/></g><g fill="#5a92ee"><circle cx="372" cy="47" r="30" fill="#7d96c4" fill-opacity="0.16"/><circle cx="600" cy="36" r="25" fill="#7d96c4" fill-opacity="0.18"/><circle cx="187" cy="127" r="10" fill-opacity="0.16"/><circle cx="571" cy="126" r="12.5" fill-opacity="0.18"/><circle cx="18" cy="163" r="20" fill="#7d96c4" fill-opacity="0.14"/><circle cx="239" cy="233" r="18" fill-opacity="0.42"/><circle cx="450" cy="193" r="10" fill-opacity="0.22"/><circle cx="508" cy="250" r="13" fill-opacity="0.3"/><circle cx="615" cy="242" r="10" fill-opacity="0.32"/><circle cx="373" cy="279" r="7.5" fill-opacity="0.4"/><circle cx="293" cy="314" r="10" fill-opacity="0.42"/><circle cx="713" cy="338" r="15" fill-opacity="0.48"/><circle cx="112" cy="350" r="11" fill-opacity="0.2"/><circle cx="403" cy="417" r="10" fill-opacity="0.32"/><circle cx="541" cy="434" r="15" fill-opacity="0.35"/><circle cx="80" cy="462" r="14" fill="#7d96c4" fill-opacity="0.14"/></g></svg>
</div>
<div id="sep"></div>
<div id="right"></div>

<div class="t" id="title">Global Legal Process Outsourcing<br>Services Market</div>
<div id="tline"></div>

<div class="bar" style="left:87px;top:461px;height:75px"></div>
<div class="bar" style="left:154px;top:433px;height:103px"></div>
<div class="bar" style="left:220.5px;top:393px;height:143px"></div>
<div class="bar" style="left:287px;top:360.5px;height:175.5px"></div>
<div class="bar" style="left:353.5px;top:334px;height:202px"></div>
<div class="bar" style="left:420px;top:304px;height:232px"></div>
<div class="bar" style="left:486px;top:276px;height:260px"></div>
<div class="bar" style="left:552.5px;top:240.5px;height:295.5px"></div>
<div id="axis"></div>

<div class="yr" id="y2023" style="left:86.4px;top:540.5px">2023</div>
<div class="yr" id="y2024" style="left:152.4px;top:540.5px">2024</div>
<div class="yr" id="y2025" style="left:219.5px;top:541.3px">2025</div>
<div class="yr" id="y2026" style="left:286.3px;top:541.3px">2026</div>
<div class="yr" id="y2027" style="left:353.0px;top:540.6px">2027</div>
<div class="yr" id="y2028" style="left:419.1px;top:540.6px">2028</div>
<div class="yr" id="y2029" style="left:485.9px;top:540.6px">2029</div>
<div class="yr" id="y2030" style="left:552.0px;top:538.0px">2030</div>

<div class="val" id="v1" style="left:80.5px;top:412px;letter-spacing:0.1px">$ 13.69</div>
<div class="val" id="v2" style="left:82px;top:432.5px;letter-spacing:0.45px">Billion</div>
<div class="val" id="v3" style="left:539.7px;top:190.2px;letter-spacing:0.3px">$ 17.49</div>
<div class="val" id="v4" style="left:544.2px;top:210.7px;letter-spacing:0.45px">Billion</div>

<svg width="140" height="70" style="position:absolute;left:750px;top:28px" viewBox="750 28 140 70"><title>VMR logo</title>
 <path fill="#fff" d="M755.1,35.3 L768.6,35.3 L780.9,72 L791,49.7 C793.5,43 800,35.1 810,35.1 C818,35.1 823.5,38.5 826.3,42.9 C829.8,38.5 836,35.5 843,35.5 C850.5,35.5 857,39.5 860.2,46.2 C864,39.5 870,35.3 877,35.3 L880.6,35.3 L880.6,46 L877,46 C869.5,46 864.3,50 864.3,57 L864.3,84.8 Q864.3,87.3 861.8,87.3 L855.5,87.3 Q853,87.3 853,84.8 L853,57 C853,50.5 848.5,45.6 842.3,45.6 C836,45.6 831.8,50.5 831.8,57 L831.8,75.8 Q831.8,78.2 829.4,78.2 L823.3,78.2 Q820.9,78.2 820.9,75.8 L820.9,57 C820.9,50 816,45.2 809.5,45.2 C805,45.2 801.5,49 799.4,54.4 L788.6,84.5 Q787.5,87.7 784.5,87.7 L775.1,87.7 Z"/>
</svg>
<div class="lg" id="l1" style="top:33px;font-weight:bold;letter-spacing:3px">VERIFIED</div>
<div class="lg" id="l2" style="top:52px;left:889.5px;letter-spacing:3.5px;-webkit-text-stroke:0.55px #fff">MARKET</div>
<div class="lg" id="l3" style="top:71.3px;left:889.3px;letter-spacing:2.15px;-webkit-text-stroke:0.55px #fff">RESEARCH</div>
<div class="t" id="reg" style="left:1001.5px;top:27.5px;font:bold 12px/14px 'Liberation Sans',sans-serif">®</div>

<div class="t" id="cagr">27.9%</div>
<div id="cline"></div>
<div class="t cs" id="c1" style="left:841px;top:313.5px;letter-spacing:1px">CAGR from</div>
<div class="t cs" id="c2" style="left:836px;top:333.8px;letter-spacing:0.5px">2024 to 2030</div>
<div class="t sr" id="s1" style="top:517.5px">Source:</div>
<div class="t sr" id="s2" style="top:535px;letter-spacing:0.08px">www.verifiedmarketresearch.com</div>
</body></html>
